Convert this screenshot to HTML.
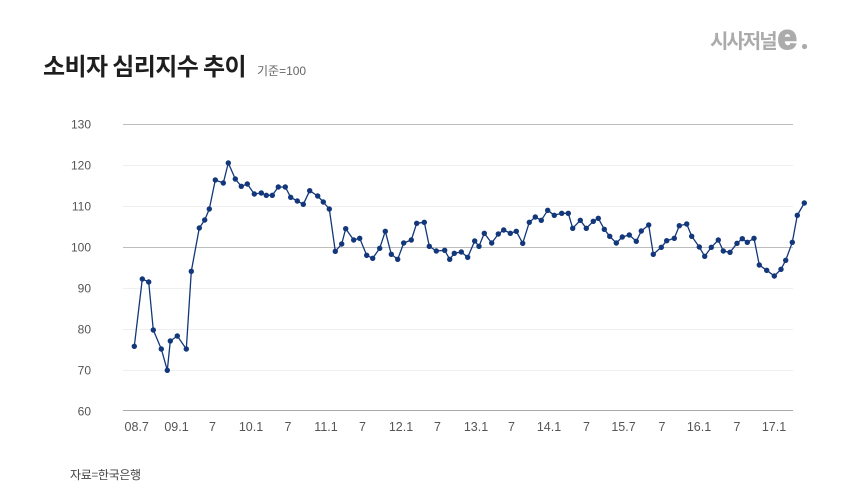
<!DOCTYPE html>
<html>
<head>
<meta charset="utf-8">
<style>
  html,body{margin:0;padding:0;background:#fff;}
  body{width:860px;height:491px;overflow:hidden;}
  svg{display:block;}
  text{font-family:"Liberation Sans","Noto Sans CJK KR",sans-serif;}
</style>
</head>
<body>
<svg width="860" height="491" viewBox="0 0 860 491" xmlns="http://www.w3.org/2000/svg">
  <rect width="860" height="491" fill="#ffffff"/>

  <!-- Logo -->
  <text x="710" y="48" font-size="20" font-weight="bold" fill="#ababab" letter-spacing="-2" style="font-family:'Noto Sans CJK KR',sans-serif;">시사저널</text>
  <text x="777.5" y="49" font-size="35" font-weight="bold" fill="#ababab" stroke="#ababab" stroke-width="1.6">e</text>
  <circle cx="804.5" cy="46.5" r="2.6" fill="#ababab"/>

  <!-- Title -->
  <text x="43" y="75" font-size="24" font-weight="bold" fill="#1e1e1e" letter-spacing="-0.6" style="font-family:'Noto Sans CJK KR',sans-serif;">소비자 심리지수 추이</text>
  <text x="257" y="75" font-size="12" fill="#666">기준=100</text>

  <!-- Gridlines -->
  <g stroke-width="1" shape-rendering="crispEdges">
    <line x1="123" y1="124.5" x2="793" y2="124.5" stroke="#bdbdbd"/>
    <line x1="123" y1="165.5" x2="793" y2="165.5" stroke="#efefef"/>
    <line x1="123" y1="206.5" x2="793" y2="206.5" stroke="#efefef"/>
    <line x1="123" y1="247.5" x2="793" y2="247.5" stroke="#bdbdbd"/>
    <line x1="123" y1="288.5" x2="793" y2="288.5" stroke="#efefef"/>
    <line x1="123" y1="329.5" x2="793" y2="329.5" stroke="#efefef"/>
    <line x1="123" y1="370.5" x2="793" y2="370.5" stroke="#efefef"/>
    <line x1="123" y1="410.5" x2="793" y2="410.5" stroke="#aaaaaa"/>
  </g>

  <!-- Y labels -->
  <g font-size="12" fill="#555" text-anchor="end">
    <text x="91" y="128.6">130</text>
    <text x="91" y="169.6">120</text>
    <text x="91" y="210.6">110</text>
    <text x="91" y="251.6">100</text>
    <text x="91" y="292.6">90</text>
    <text x="91" y="333.6">80</text>
    <text x="91" y="374.6">70</text>
    <text x="91" y="415.3">60</text>
  </g>

  <!-- X labels -->
  <g font-size="12.5" fill="#555" text-anchor="middle">
    <text x="136.7" y="431">08.7</text>
    <text x="176.5" y="431">09.1</text>
    <text x="212.5" y="431">7</text>
    <text x="251" y="431">10.1</text>
    <text x="288" y="431">7</text>
    <text x="326" y="431">11.1</text>
    <text x="362.5" y="431">7</text>
    <text x="401" y="431">12.1</text>
    <text x="437.5" y="431">7</text>
    <text x="476" y="431">13.1</text>
    <text x="511.5" y="431">7</text>
    <text x="549" y="431">14.1</text>
    <text x="586.5" y="431">7</text>
    <text x="623.5" y="431">15.7</text>
    <text x="662" y="431">7</text>
    <text x="699" y="431">16.1</text>
    <text x="737" y="431">7</text>
    <text x="774" y="431">17.1</text>
  </g>

  <!-- Series -->
  <g id="series">
    <polyline fill="none" stroke="#12377a" stroke-width="1.3" stroke-linejoin="round"
      points="134.3,346.3 142.3,279 148.7,282 153.3,330 161.3,349 167.3,370.3 170.3,341 177.3,336 186.3,349 191.3,271.3 199.3,228 204.7,220 209.3,209 215.3,180 223.3,183 228.3,163 235.3,179 241.3,186.3 247.3,184 254.3,194 261.3,193 266.3,195.3 272.3,195.3 278.3,187 285.3,187 290.7,197.3 297.3,201 303.3,204.3 309.7,190.7 317.7,196 323.3,202 329.3,209 335.3,251.3 341.7,244 345.7,228.7 353.7,240 359.7,238.3 366.7,255.3 372.7,258.3 379.7,248.3 385.3,231.3 391.3,254.3 397.7,259.3 403.7,243 411.3,240 416.7,223.3 424.3,222.3 429.3,246.3 436.3,251 444.7,250.3 449.7,259.3 454.3,253.3 461.3,252 467.7,257.3 474.7,241 479,246.3 484.3,233.3 491.7,243 498.3,234 503.7,230 510.3,233.3 516.3,231.3 522.7,243.3 529.3,222.3 535.3,217 541.3,220.3 547.7,210.3 554.3,215.3 561.7,213.3 568.3,213.3 572.7,228.3 580.3,220.3 586.3,228.3 593.3,221.3 598.3,218.3 604.3,229.3 609.7,236.3 616.3,243 622.3,237 629.3,235 636.3,241.3 641.3,231 648.7,225 653.3,254.3 661.3,247.3 666.7,240.7 674.3,238.3 679.3,225.7 686.7,224 691.7,236.3 699.3,247 704.7,256.3 711.3,247.3 718.3,240 723.3,251 730,252.3 737,243.3 742.3,238.7 747.3,242.3 754,238.3 759.3,265 766.7,270.3 774.3,276 781,269.3 785.7,260.3 792.3,242.3 797.3,215.3 804.3,203"/>
    <g fill="#12377a">
      <circle cx="134.3" cy="346.3" r="2.7"/><circle cx="142.3" cy="279" r="2.7"/><circle cx="148.7" cy="282" r="2.7"/><circle cx="153.3" cy="330" r="2.7"/><circle cx="161.3" cy="349" r="2.7"/><circle cx="167.3" cy="370.3" r="2.7"/><circle cx="170.3" cy="341" r="2.7"/><circle cx="177.3" cy="336" r="2.7"/><circle cx="186.3" cy="349" r="2.7"/><circle cx="191.3" cy="271.3" r="2.7"/><circle cx="199.3" cy="228" r="2.7"/><circle cx="204.7" cy="220" r="2.7"/><circle cx="209.3" cy="209" r="2.7"/><circle cx="215.3" cy="180" r="2.7"/><circle cx="223.3" cy="183" r="2.7"/><circle cx="228.3" cy="163" r="2.7"/><circle cx="235.3" cy="179" r="2.7"/><circle cx="241.3" cy="186.3" r="2.7"/><circle cx="247.3" cy="184" r="2.7"/><circle cx="254.3" cy="194" r="2.7"/><circle cx="261.3" cy="193" r="2.7"/><circle cx="266.3" cy="195.3" r="2.7"/><circle cx="272.3" cy="195.3" r="2.7"/><circle cx="278.3" cy="187" r="2.7"/><circle cx="285.3" cy="187" r="2.7"/><circle cx="290.7" cy="197.3" r="2.7"/><circle cx="297.3" cy="201" r="2.7"/><circle cx="303.3" cy="204.3" r="2.7"/><circle cx="309.7" cy="190.7" r="2.7"/><circle cx="317.7" cy="196" r="2.7"/><circle cx="323.3" cy="202" r="2.7"/><circle cx="329.3" cy="209" r="2.7"/><circle cx="335.3" cy="251.3" r="2.7"/><circle cx="341.7" cy="244" r="2.7"/><circle cx="345.7" cy="228.7" r="2.7"/><circle cx="353.7" cy="240" r="2.7"/><circle cx="359.7" cy="238.3" r="2.7"/><circle cx="366.7" cy="255.3" r="2.7"/><circle cx="372.7" cy="258.3" r="2.7"/><circle cx="379.7" cy="248.3" r="2.7"/><circle cx="385.3" cy="231.3" r="2.7"/><circle cx="391.3" cy="254.3" r="2.7"/><circle cx="397.7" cy="259.3" r="2.7"/><circle cx="403.7" cy="243" r="2.7"/><circle cx="411.3" cy="240" r="2.7"/><circle cx="416.7" cy="223.3" r="2.7"/><circle cx="424.3" cy="222.3" r="2.7"/><circle cx="429.3" cy="246.3" r="2.7"/><circle cx="436.3" cy="251" r="2.7"/><circle cx="444.7" cy="250.3" r="2.7"/><circle cx="449.7" cy="259.3" r="2.7"/><circle cx="454.3" cy="253.3" r="2.7"/><circle cx="461.3" cy="252" r="2.7"/><circle cx="467.7" cy="257.3" r="2.7"/><circle cx="474.7" cy="241" r="2.7"/><circle cx="479" cy="246.3" r="2.7"/><circle cx="484.3" cy="233.3" r="2.7"/><circle cx="491.7" cy="243" r="2.7"/><circle cx="498.3" cy="234" r="2.7"/><circle cx="503.7" cy="230" r="2.7"/><circle cx="510.3" cy="233.3" r="2.7"/><circle cx="516.3" cy="231.3" r="2.7"/><circle cx="522.7" cy="243.3" r="2.7"/><circle cx="529.3" cy="222.3" r="2.7"/><circle cx="535.3" cy="217" r="2.7"/><circle cx="541.3" cy="220.3" r="2.7"/><circle cx="547.7" cy="210.3" r="2.7"/><circle cx="554.3" cy="215.3" r="2.7"/><circle cx="561.7" cy="213.3" r="2.7"/><circle cx="568.3" cy="213.3" r="2.7"/><circle cx="572.7" cy="228.3" r="2.7"/><circle cx="580.3" cy="220.3" r="2.7"/><circle cx="586.3" cy="228.3" r="2.7"/><circle cx="593.3" cy="221.3" r="2.7"/><circle cx="598.3" cy="218.3" r="2.7"/><circle cx="604.3" cy="229.3" r="2.7"/><circle cx="609.7" cy="236.3" r="2.7"/><circle cx="616.3" cy="243" r="2.7"/><circle cx="622.3" cy="237" r="2.7"/><circle cx="629.3" cy="235" r="2.7"/><circle cx="636.3" cy="241.3" r="2.7"/><circle cx="641.3" cy="231" r="2.7"/><circle cx="648.7" cy="225" r="2.7"/><circle cx="653.3" cy="254.3" r="2.7"/><circle cx="661.3" cy="247.3" r="2.7"/><circle cx="666.7" cy="240.7" r="2.7"/><circle cx="674.3" cy="238.3" r="2.7"/><circle cx="679.3" cy="225.7" r="2.7"/><circle cx="686.7" cy="224" r="2.7"/><circle cx="691.7" cy="236.3" r="2.7"/><circle cx="699.3" cy="247" r="2.7"/><circle cx="704.7" cy="256.3" r="2.7"/><circle cx="711.3" cy="247.3" r="2.7"/><circle cx="718.3" cy="240" r="2.7"/><circle cx="723.3" cy="251" r="2.7"/><circle cx="730" cy="252.3" r="2.7"/><circle cx="737" cy="243.3" r="2.7"/><circle cx="742.3" cy="238.7" r="2.7"/><circle cx="747.3" cy="242.3" r="2.7"/><circle cx="754" cy="238.3" r="2.7"/><circle cx="759.3" cy="265" r="2.7"/><circle cx="766.7" cy="270.3" r="2.7"/><circle cx="774.3" cy="276" r="2.7"/><circle cx="781" cy="269.3" r="2.7"/><circle cx="785.7" cy="260.3" r="2.7"/><circle cx="792.3" cy="242.3" r="2.7"/><circle cx="797.3" cy="215.3" r="2.7"/><circle cx="804.3" cy="203" r="2.7"/>
    </g>
  </g>

  <!-- Source -->
  <text x="70" y="479" font-size="12" fill="#444" letter-spacing="-0.3" style="font-family:'Noto Sans CJK KR',sans-serif;">자료=한국은행</text>
</svg>
</body>
</html>
